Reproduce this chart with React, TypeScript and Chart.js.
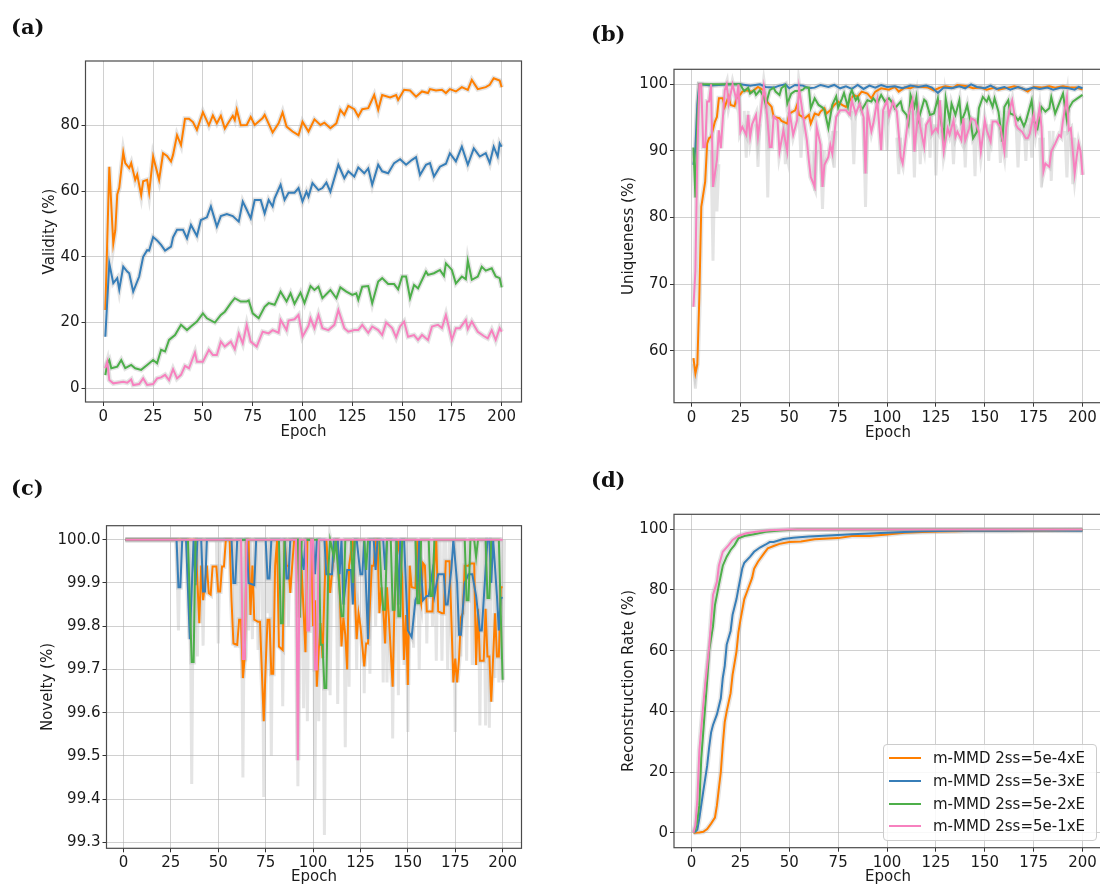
import React, { useEffect, useRef } from "react";
import { Chart, registerables } from "chart.js";
Chart.register(...registerables);

type P = [number, number];
type S3 = [number, number, number];

// ---------------- (a) Validity ----------------
const aOrange: P[] = [[1,23.8],[3,67.4],[5,44],[6,48],[7,59],[8,61],[10,71.8],[11,68.5],[13,67],[14,68.5],[16,63.4],[17,65],[19,58.8],[20,63],[22,63.4],[23,59.5],[25,70.5],[28,63.4],[30,71.5],[32,70.7],[34,69],[35,71],[37,77],[39,74],[41,82],[43,82],[45,81],[47,78.6],[50,84],[53,80],[55,83],[57,80.6],[59,82.9],[61,79],[63,81],[65,82.9],[66,81.6],[67,84.7],[69,80],[72,80.1],[74,82.5],[76,80.1],[80,82.2],[81,83.2],[85,77.8],[88,80.6],[90,83.9],[92,79.6],[95,78.1],[98,77],[100,81.1],[103,78.1],[106,81.8],[109,80.1],[111,80.8],[114,79.1],[117,80.6],[119,84.7],[121,83.2],[123,85.9],[126,84.9],[128,82.7],[130,84.9],[133,85.2],[136,89.2],[138,84.7],[140,89.2],[144,88.5],[147,89.2],[148,87.7],[151,90.8],[154,90.6],[157,88.7],[160,90.3],[163,89.8],[164,91],[167,90.6],[170,90.8],[172,89.8],[174,91],[177,90.3],[180,91.6],[183,90.8],[185,93.8],[188,91],[192,91.6],[194,92.3],[196,94.3],[199,93.6],[200,91.6]];
const aBlue: P[] = [[1,15.7],[3,38],[5,32],[7,33.5],[8,30],[10,37],[12,35.5],[13,35],[15,29.4],[18,34],[20,40],[22,42],[23,41.9],[25,46],[27,45],[29,43.6],[31,41.9],[34,43.1],[35,45.9],[37,48.2],[40,48.2],[42,45.6],[44,49.7],[47,46.3],[49,51.2],[52,52],[54,55.3],[57,49.2],[59,52.4],[62,53],[65,52.4],[68,50.7],[70,56.8],[72,54.3],[74,51.7],[76,57.3],[79,57.3],[81,53.2],[83,57.3],[85,55.3],[86,57.8],[89,61.9],[91,57.3],[93,59.5],[96,59.5],[98,60.9],[100,56.8],[102,59.8],[103,58.3],[105,62.4],[108,60.3],[110,60.9],[112,62.6],[114,59.8],[118,68],[121,63.9],[123,66],[126,64.4],[128,67.2],[131,65.4],[133,66.9],[135,61.9],[138,68],[140,66],[143,65.4],[146,68.5],[149,69.7],[152,68],[155,69.5],[157,70.3],[159,64.9],[162,68],[164,68.5],[166,64.4],[169,67.4],[172,68.3],[174,71.5],[177,69],[180,73.5],[183,68],[186,73],[189,70.5],[192,71.5],[194,68.5],[196,73.5],[198,70.5],[199,74.5],[200,73.5]];
const aGreen: P[] = [[1,4],[2,7.6],[3,8.6],[4,6.1],[7,6.6],[9,8.6],[11,6.1],[14,7.1],[16,6.1],[19,5.6],[22,7.1],[25,8.6],[27,7.6],[29,11.7],[31,11.2],[33,14.7],[36,16.2],[39,19.3],[42,17.7],[44,18.8],[47,20.3],[50,22.8],[52,21.3],[56,20],[59,22.3],[61,23.3],[64,25.9],[66,27.4],[69,26.4],[72,26.4],[73,26.7],[75,22.8],[78,21.3],[81,24.8],[83,25.9],[86,25.4],[89,29.4],[92,26.4],[94,28.9],[96,25.7],[99,29.1],[101,25.9],[104,31.1],[106,29.9],[108,30.9],[110,27.4],[114,29.9],[117,27.4],[119,30.7],[122,29.4],[125,28.4],[127,28.9],[128,26.9],[130,30.9],[133,31.1],[135,25.9],[138,32.5],[140,33.5],[143,31.7],[146,31.7],[148,30.1],[150,34],[152,34],[154,27.4],[156,31.4],[158,30.4],[162,35.5],[163,34.5],[166,35],[169,36],[171,34.2],[172,38],[175,36],[177,31.9],[180,34],[182,33.2],[183,38.8],[185,33],[188,34],[190,37],[192,35.8],[195,36.5],[197,34],[199,33.5],[200,30.7]];
const aPink: P[] = [[1,6.1],[2,8.1],[3,2.5],[5,1.5],[7,1.7],[10,2],[12,1.7],[14,2.7],[15,1],[18,1.3],[20,3],[22,1],[25,1.3],[27,3],[29,3.3],[31,4.1],[33,2.5],[35,5.8],[37,3],[39,4.1],[41,6.8],[43,6.1],[46,10.9],[47,8.1],[50,8.1],[53,11.7],[55,10.1],[57,10.1],[59,14.2],[61,12.7],[64,14.2],[66,11.9],[68,16.7],[70,13.7],[72,19.3],[74,14.2],[77,12.7],[80,17.2],[83,16.7],[85,17.7],[88,16.9],[89,20.8],[92,17.7],[93,20.6],[96,21],[98,22.3],[100,15.7],[103,19],[104,21.3],[106,18.3],[108,22.3],[110,18.3],[113,17.7],[116,19.3],[118,23.8],[121,18.3],[123,17.2],[126,17.7],[128,17.7],[130,19.3],[133,16.9],[135,18.8],[138,17.7],[140,16.2],[142,20],[145,18.3],[147,15.5],[149,18.8],[151,20.3],[153,15.7],[156,16.2],[158,14.7],[160,16.2],[163,14.7],[165,18.8],[168,19.3],[170,18.3],[172,22.3],[175,14.7],[177,18.3],[179,18.3],[182,20.8],[183,18],[185,20.3],[188,17.2],[191,15.9],[193,15.2],[195,17.7],[197,14.7],[199,18.3],[200,17.2]];

// ---------------- (b) Uniqueness ----------------
const bOrange: P[] = [[1,58.9],[2,56.6],[3,58],[4,68],[5,81.6],[7,85.4],[8,91.1],[9,91.9],[10,92.1],[12,94.4],[13,95.1],[14,97.9],[16,97.9],[17,96.6],[19,98.2],[20,96.9],[22,96.7],[23,97.9],[25,98.5],[26,98.9],[28,99.1],[31,98.9],[34,99.6],[37,99.1],[38,97.6],[41,96.6],[42,95.1],[45,94.9],[46,94.5],[49,94.1],[50,95.6],[53,96.1],[54,96.9],[55,95.4],[58,94.9],[60,95.4],[61,94.1],[63,95.6],[65,95.4],[66,95.9],[68,96.4],[69,95.6],[71,96.1],[73,96.9],[75,97.4],[77,96.9],[79,96.6],[81,97.6],[83,98.4],[85,98.1],[87,98.9],[90,98.6],[92,97.9],[94,98.9],[97,99.4],[101,99.2],[104,99.6],[106,98.9],[109,99.5],[112,99.4],[114,99.7],[118,99.6],[121,99.5],[124,99.1],[127,99.5],[130,99.7],[134,99.5],[136,99.9],[141,99.7],[144,99.4],[148,99.5],[151,99.2],[155,99.5],[157,99.2],[162,99.5],[165,99.7],[169,99.4],[172,98.9],[175,99.6],[179,99.5],[183,99.7],[186,99.5],[190,99.7],[194,99.5],[197,99.5],[200,99.2]];
const bBlue: P[] = [[1,87.9],[2,90.5],[3,97],[4,100],[10,99.8],[20,100],[25,100],[30,99.8],[35,100],[38,99.6],[42,99.5],[45,99.8],[48,100],[50,99.4],[53,99.9],[57,99.8],[60,99.4],[63,99.5],[66,99.9],[70,99.6],[73,99.9],[76,99.4],[79,99.7],[82,99.3],[85,99.9],[88,99.3],[91,99.8],[94,99.5],[97,99.9],[100,99.6],[104,99.7],[108,99.4],[112,99.8],[116,99.6],[120,99.8],[123,99.5],[126,98.7],[129,99.5],[133,99.4],[137,99.7],[140,99.4],[143,100],[146,99.6],[150,99.4],[153,99.8],[156,99.3],[160,99.6],[163,99.2],[167,99.6],[171,99.2],[175,99.5],[178,99.3],[182,99.5],[185,99.2],[189,99.5],[193,99.4],[196,99.2],[198,99.6],[200,99.4]];
const bGreen: P[] = [[1,90.5],[2,83],[3,95],[4,100],[25,100],[26,99.4],[27,99],[29,99.5],[30,98.6],[32,99.1],[33,98.4],[35,99.1],[37,98.1],[38,96.9],[40,99.1],[42,99.5],[43,98.9],[45,98.4],[46,99.4],[48,99.9],[49,97.1],[51,98.6],[53,99],[55,99],[57,99.2],[58,99.5],[60,99.5],[61,96.4],[63,97.9],[65,96.9],[67,96.5],[68,96.1],[70,93.4],[72,96.9],[74,98.2],[75,96.5],[77,97.9],[78,98.7],[80,96.6],[81,98.4],[82,99.1],[84,97.6],[85,98.1],[87,96.1],[89,97.1],[90,97.6],[92,97.4],[93,97.9],[95,97.1],[97,98.4],[99,97.4],[101,97.9],[103,97.1],[104,96.4],[107,97.4],[108,96.1],[110,95.4],[111,94.2],[112,98.4],[114,96.6],[115,98.1],[116,94.6],[119,97.7],[120,97.4],[122,95.4],[124,95.6],[126,97.9],[127,95.6],[129,91.9],[130,97.9],[132,94.6],[133,97.1],[135,95.4],[137,97.6],[138,94.4],[140,95.9],[141,96.9],[143,93.9],[144,91.9],[146,92.9],[147,96.4],[149,98.1],[151,97.4],[152,98.1],[154,96.6],[155,97.9],[157,95.9],[159,91.4],[160,96.6],[162,97.6],[163,95.6],[165,95.4],[167,94.6],[168,95],[170,93.7],[171,94.4],[174,97.6],[175,94.6],[177,93.4],[179,96.6],[181,95.9],[183,96.4],[184,98.1],[186,95.6],[188,97.1],[190,98.6],[192,94.6],[193,96.4],[195,97.4],[197,97.8],[200,98.4]];
const bPink: P[] = [[1,66.6],[2,72],[3,90],[4,100],[5,100],[6,90.6],[7,90.6],[8,97.4],[9,97.4],[10,100],[11,84.6],[13,88.6],[14,93.1],[15,90.4],[17,99.1],[18,100],[19,97.1],[21,100],[23,97.6],[24,100],[25,92.9],[26,93.6],[28,92.4],[29,95.4],[30,92.1],[31,94],[33,95.4],[34,92.1],[35,94.6],[37,99.7],[38,97.6],[40,90.6],[41,90.6],[42,95.2],[44,94.6],[45,89.9],[47,93.1],[49,89.9],[50,96.1],[52,92.4],[54,94.6],[55,99.5],[57,95.4],[59,91.6],[60,88.6],[61,86.1],[63,84.6],[64,93.6],[66,90.9],[67,84.6],[68,87.9],[70,89.1],[71,90.9],[72,89.6],[74,95.1],[76,96.1],[79,96.1],[81,95.4],[82,97.6],[84,95.6],[86,97.1],[88,95.1],[89,86.6],[90,96.1],[92,92.9],[93,94.1],[95,97.6],[97,90.1],[98,96.1],[100,97.6],[101,95.4],[103,97.4],[105,95.9],[107,89.1],[108,88.1],[110,92.9],[111,95.4],[113,97.6],[114,89.9],[116,96.1],[117,93.6],[119,90.6],[120,93.9],[122,94.9],[123,92.6],[125,93.4],[126,92.9],[127,97.6],[129,89.9],[131,93.4],[132,92.4],[134,94.6],[135,92.1],[136,92.9],[138,91.6],[139,94.9],[140,91.6],[142,93.4],[143,94.9],[145,94.6],[147,92.9],[148,89.9],[150,94.6],[151,93.1],[153,91.4],[154,94.4],[156,94.4],[158,93.6],[160,89.9],[161,93.6],[163,96.6],[164,97.6],[166,93.9],[167,93.4],[169,92.9],[171,91.9],[172,91.9],[173,92.6],[175,95.4],[176,92.9],[178,96.4],[179,93.6],[180,86.9],[181,88.1],[183,87.6],[184,89.9],[186,91.1],[188,92.4],[189,92.1],[190,94.6],[192,98.1],[193,93.1],[194,93.4],[196,86.6],[197,89.1],[198,91.1],[199,89.9],[200,86.4]];
// raw (grey) excursions: [epoch, from, to]
const bRawSpikes: S3[] = [[2,58,54.3],[11,90,73.5],[13,88,80.9],[28,96,89],[34,94,87.6],[39,97,83],[48,95,88],[56,95,89],[63,90,84],[67,90,81.3],[73,93,87.5],[83,96,88],[89,95,81.6],[100,96,90],[106,92,86.5],[114,96,86],[117,95,88],[122,96,89],[125,94,86.3],[134,94,88],[140,95,87.5],[145,95,86.2],[152,94,88.5],[158,95,88.2],[161,96,89],[167,94,87.5],[171,94,88.5],[174,95,89],[179,92,84.5],[184,93,85.5],[192,93,86],[195,92,85]];

// ---------------- (c) Novelty ----------------
const cOrange: P[] = [[1,100],[38,100],[40,99.807],[41,99.94],[42,99.86],[44,99.94],[45,99.876],[46,99.873],[47,99.938],[49,99.938],[50,99.88],[51,99.88],[52,99.938],[53,99.938],[54,100],[56,100],[57,99.86],[58,99.76],[60,99.757],[61,99.815],[62,99.815],[63,99.68],[64,99.73],[65,100],[66,100],[67,99.826],[68,99.94],[69,99.815],[71,99.81],[72,99.81],[74,99.58],[75,99.707],[76,99.815],[77,99.815],[78,99.69],[79,99.69],[80,99.94],[81,100],[82,99.753],[84,99.745],[85,100],[86,99.94],[87,99.94],[88,99.877],[89,99.94],[90,100],[92,100],[93,99.82],[94,99.93],[96,99.74],[97,100],[99,100],[100,99.8],[101,99.86],[102,99.66],[103,99.745],[104,99.807],[105,99.726],[106,99.877],[107,100],[109,99.877],[111,99.97],[112,100],[113,100],[114,99.89],[115,99.753],[116,99.82],[117,99.78],[118,99.7],[119,99.94],[121,100],[122,99.877],[123,99.77],[124,99.83],[125,99.8],[126,99.753],[127,99.707],[128,99.76],[129,99.76],[131,99.94],[132,99.94],[133,100],[134,100],[135,99.83],[136,99.89],[137,99.84],[138,99.76],[139,99.89],[140,99.82],[142,99.66],[143,99.86],[144,99.95],[145,100],[147,99.915],[148,99.722],[149,99.826],[150,99.664],[151,99.94],[152,99.89],[154,99.888],[155,100],[156,99.877],[157,99.853],[158,99.946],[159,99.94],[160,99.834],[162,99.834],[163,99.834],[164,99.94],[165,100],[166,99.834],[168,99.83],[169,99.83],[170,99.95],[172,99.95],[173,99.81],[174,99.67],[175,99.725],[176,99.67],[177,99.725],[178,99.82],[179,99.83],[180,99.94],[182,99.94],[183,99.945],[185,99.945],[186,99.71],[187,99.84],[188,99.72],[190,99.72],[191,99.84],[192,99.73],[193,99.73],[194,99.625],[195,99.73],[196,99.83],[197,99.73],[198,99.73],[199,99.89],[200,99.89]];
const cBlue: P[] = [[1,100],[28,100],[29,99.89],[30,99.89],[31,100],[33,100],[35,99.77],[37,100],[38,99.895],[39,100],[41,100],[42,99.88],[43,99.88],[44,100],[57,100],[58,99.9],[59,99.9],[60,100],[65,100],[66,99.9],[69,99.895],[70,100],[75,100],[76,99.91],[77,99.91],[78,100],[85,100],[86,99.91],[87,99.91],[88,100],[93,100],[95,99.93],[96,100],[100,100],[101,99.92],[102,100],[106,100],[107,99.92],[110,99.92],[111,100],[113,100],[114,99.92],[115,100],[116,99.85],[118,99.93],[120,99.93],[121,99.85],[122,100],[123,100],[125,99.92],[126,99.92],[127,100],[129,99.77],[130,100],[132,100],[133,99.93],[134,100],[137,100],[138,99.93],[139,100],[144,100],[145,99.85],[146,100],[148,100],[150,99.79],[152,99.775],[154,99.86],[155,99.87],[156,100],[158,99.86],[160,99.87],[161,99.87],[163,99.926],[164,99.87],[166,99.92],[168,99.92],[169,99.92],[170,99.85],[171,99.85],[173,99.934],[174,100],[176,99.9],[177,99.78],[178,99.78],[180,99.9],[182,99.92],[184,99.92],[186,99.87],[188,99.79],[189,99.79],[191,99.93],[192,100],[193,100],[194,99.9],[195,100],[197,99.87],[198,99.79],[199,99.866],[200,99.865]];
const cGreen: P[] = [[1,100],[34,100],[36,99.717],[37,99.717],[38,100],[82,100],[83,99.807],[84,99.807],[85,100],[92,100],[93,99.82],[94,100],[103,100],[104,99.757],[105,99.757],[106,99.657],[107,99.657],[108,99.927],[109,100],[111,99.96],[112,100],[115,99.823],[116,99.823],[117,100],[120,100],[121,99.9],[122,100],[127,100],[128,99.93],[129,100],[135,100],[136,99.9],[137,99.838],[138,99.838],[139,100],[141,100],[142,99.838],[143,99.838],[144,100],[145,99.823],[146,99.823],[147,100],[154,100],[155,99.853],[156,99.853],[157,100],[161,100],[162,99.87],[163,99.87],[164,100],[180,100],[181,99.86],[182,99.86],[183,100],[185,100],[186,99.96],[187,100],[191,100],[192,99.865],[193,99.865],[194,100],[198,100],[199,99.83],[200,99.676]];
const cPink: P[] = [[1,100],[62,100],[63,99.724],[64,99.724],[65,100],[91,100],[92,99.49],[93,100],[96,100],[97,99.79],[98,99.79],[99,100],[100,100],[101,99.7],[102,99.7],[103,100],[200,100]];
const cRawSpikes: S3[] = [[29,100,99.79],[36,100,99.435],[39,100,99.73],[42,100,99.755],[50,100,99.76],[59,100,99.75],[61,100,99.81],[63,100,99.45],[66,100,99.79],[68,100,99.77],[71,100,99.745],[74,100,99.405],[76,100,99.83],[78,100,99.5],[84,100,99.615],[87,100,99.8],[92,100,99.43],[95,100,99.61],[97,100,99.58],[101,100,99.4],[103,100,99.58],[106,100,99.317],[109,100,99.64],[113,100,99.62],[117,100,99.52],[119,100,99.66],[123,100,99.7],[127,100,99.645],[130,100,99.69],[133,100,99.8],[137,100,99.67],[139,100,99.67],[142,100,99.54],[145,100,99.64],[148,100,99.71],[150,100,99.555],[153,100,99.75],[156,100,99.7],[160,100,99.76],[163,100,99.8],[165,100,99.72],[168,100,99.72],[171,100,99.7],[175,100,99.555],[178,100,99.73],[181,100,99.72],[184,100,99.71],[188,100,99.57],[191,100,99.57],[193,100,99.565],[196,100,99.68],[198,100,99.67],[200,100,99.67]];

// ---------------- (d) Reconstruction ----------------
const dOrange: P[] = [[1,0],[4,0.1],[6,0.3],[8,1.2],[10,3],[12,5],[13,9],[14,14.6],[15,20],[16,29],[17,36.5],[18,40],[20,46],[21,52],[23,59.7],[24,66],[25,70],[27,77],[29,80.5],[31,84],[32,87],[34,89.3],[37,92],[39,93.7],[42,94.5],[45,95.2],[50,95.8],[56,96],[63,96.7],[70,97],[75,97.1],[82,97.8],[91,97.8],[100,98.3],[109,98.9],[118,99.1],[127,99.3],[135,99.4],[144,99.5],[160,99.5],[180,99.6],[200,99.7]];
const dBlue: P[] = [[1,0],[2,0.3],[3,1],[4,4.7],[6,13.5],[8,22],[9,28],[10,33],[11,35.5],[13,39],[15,44.3],[16,51],[17,55],[18,62],[20,66.5],[21,71.8],[23,77],[24,80.5],[26,87.2],[27,89],[30,91],[32,92.6],[35,94],[38,95],[40,95.8],[42,95.8],[47,96.8],[52,97.2],[60,97.6],[70,98],[82,98.4],[100,98.9],[118,99.4],[135,99.5],[160,99.5],[180,99.6],[200,99.5]];
const dGreen: P[] = [[1,0],[2,1],[3,4],[4,9],[5,24.5],[6,33],[8,50],[9,60],[11,68],[12,75],[14,81.6],[16,88],[18,91],[20,93.2],[22,94.8],[24,97],[27,97.8],[32,98.4],[38,99.2],[45,99.6],[54,99.9],[80,99.9],[120,99.9],[200,99.9]];
const dPink: P[] = [[1,0],[2,2.5],[3,11],[4,27],[6,42],[7,49],[9,61],[10,69.6],[11,78.4],[13,82.7],[14,88],[16,92.6],[19,94.8],[21,96.5],[24,97.8],[28,98.7],[33,99.2],[40,99.7],[50,99.9],[100,99.9],[200,99.9]];

const xTicks = [0, 25, 50, 75, 100, 125, 150, 175, 200];
const aYTicks = [0, 20, 40, 60, 80];
const bYTicks = [60, 70, 80, 90, 100];
const cYTicks = [99.3, 99.4, 99.5, 99.6, 99.7, 99.8, 99.9, 100.0];
const dYTicks = [0, 20, 40, 60, 80, 100];
const legendLabels = ["m-MMD 2ss=5e-4xE", "m-MMD 2ss=5e-3xE", "m-MMD 2ss=5e-2xE", "m-MMD 2ss=5e-1xE"];

const ORANGE = "#ff7f00";
const BLUE = "#377eb8";
const GREEN = "#4daf4a";
const PINK = "#f781bf";
const COLORS = [ORANGE, BLUE, GREEN, PINK];
const FONT = "'DejaVu Sans', sans-serif";
const TEXT = "#1a1a1a";
const GRID = "rgba(176,176,176,0.6)";
const HALO = "rgba(185,185,185,0.38)";

const toXY = (a: P[]) => a.map(([x, y]) => ({ x, y }));
const spikesXY = (list: S3[]) => {
  const out: any[] = [];
  for (const [e, top, bot] of list) {
    out.push({ x: e - 1, y: top }, { x: e, y: bot }, { x: e + 1, y: top }, { x: e + 1, y: null });
  }
  return out;
};

const framePlugin = {
  id: "frame",
  afterDraw(chart: any) {
    const { ctx, chartArea: a } = chart;
    ctx.save();
    ctx.strokeStyle = "#4a4a4a";
    ctx.lineWidth = 1.2;
    ctx.strokeRect(a.left, a.top, a.right - a.left, a.bottom - a.top);
    ctx.restore();
  },
};

type PanelCfg = {
  series: P[][];
  spikes?: S3[];
  yMin: number; yMax: number; yTicks: number[]; yFmt?: (v: number) => string;
  yTitle: string; yAxisW: number; xAxisH: number; padTop: number; padRight: number;
  yTitlePad: number; xTitlePad: number;
};

function buildConfig(c: PanelCfg): any {
  const datasets: any[] = [];
  c.series.forEach((s, i) => {
    datasets.push({ data: toXY(s), borderColor: COLORS[i], borderWidth: 2, pointRadius: 0, order: 4 - i, tension: 0, fill: false });
  });
  c.series.forEach((s) => {
    datasets.push({ data: toXY(s), borderColor: HALO, borderWidth: 5, pointRadius: 0, order: 10, tension: 0, fill: false });
  });
  if (c.spikes) {
    datasets.push({ data: spikesXY(c.spikes), borderColor: HALO, borderWidth: 3, pointRadius: 0, order: 11, tension: 0, fill: false, spanGaps: false });
  }
  const font = { family: FONT, size: 15 };
  return {
    type: "line",
    data: { datasets },
    plugins: [framePlugin],
    options: {
      responsive: false,
      animation: false,
      events: [],
      layout: { padding: { top: c.padTop, right: c.padRight, left: 0, bottom: 0 } },
      plugins: { legend: { display: false }, tooltip: { enabled: false } },
      scales: {
        x: {
          type: "linear", min: -8.95, max: 209.95,
          afterBuildTicks: (s: any) => { s.ticks = xTicks.map((v) => ({ value: v })); },
          afterFit: (s: any) => { s.height = c.xAxisH; },
          border: { display: false },
          grid: { color: GRID, lineWidth: 1, tickLength: 4, tickColor: "#333", drawTicks: true },
          ticks: { color: TEXT, font, padding: 2, maxRotation: 0, autoSkip: false, callback: (v: any) => String(v) },
          title: { display: true, text: "Epoch", color: TEXT, font, padding: { top: 0, bottom: c.xTitlePad } },
        },
        y: {
          type: "linear", min: c.yMin, max: c.yMax,
          afterBuildTicks: (s: any) => { s.ticks = c.yTicks.map((v) => ({ value: v })); },
          afterFit: (s: any) => { s.width = c.yAxisW; },
          border: { display: false },
          grid: { color: GRID, lineWidth: 1, tickLength: 4, tickColor: "#333", drawTicks: true },
          ticks: { color: TEXT, font, padding: 2, autoSkip: false, callback: (v: any) => (c.yFmt ? c.yFmt(Number(v)) : String(v)) },
          title: { display: true, text: c.yTitle, color: TEXT, font, padding: { top: c.yTitlePad, bottom: 0 } },
        },
      },
    },
  };
}

function Panel(props: { left: number; top: number; width: number; height: number; cfg: PanelCfg }) {
  const ref = useRef<HTMLCanvasElement>(null);
  useEffect(() => {
    const chart = new Chart(ref.current as HTMLCanvasElement, buildConfig(props.cfg));
    return () => chart.destroy();
  }, []);
  const { left, top, width, height } = props;
  return (
    <div style={{ position: "absolute", left, top, width, height }}>
      <canvas ref={ref} width={width} height={height} style={{ width, height, display: "block" }} />
    </div>
  );
}

const labelStyle = (left: number, top: number): React.CSSProperties => ({
  position: "absolute", left, top, fontFamily: "'DejaVu Serif', serif", fontWeight: "bold", fontSize: 21, lineHeight: "24px", color: "#111",
});

export default function App() {
  return (
    <div style={{ position: "fixed", left: 0, top: 0, width: 1100, height: 886, overflow: "hidden", background: "#fff" }}>
      <Panel left={0} top={0} width={540} height={450} cfg={{
        series: [aOrange, aBlue, aGreen, aPink], yMin: -4.17, yMax: 99.56, yTicks: aYTicks,
        yTitle: "Validity (%)", yAxisW: 85.5, xAxisH: 48, padTop: 61, padRight: 18.5, yTitlePad: 41, xTitlePad: 9,
      }} />
      <Panel left={560} top={0} width={560} height={450} cfg={{
        series: [bOrange, bBlue, bGreen, bPink], spikes: bRawSpikes, yMin: 52.2, yMax: 102.25, yTicks: bYTicks,
        yTitle: "Uniqueness (%)", yAxisW: 114, xAxisH: 47.3, padTop: 69.3, padRight: 18, yTitlePad: 60, xTitlePad: 8,
      }} />
      <Panel left={0} top={450} width={540} height={436} cfg={{
        series: [cOrange, cBlue, cGreen, cPink], spikes: cRawSpikes, yMin: 99.2862, yMax: 100.0324, yTicks: cYTicks,
        yFmt: (v) => v.toFixed(1),
        yTitle: "Novelty (%)", yAxisW: 106.5, xAxisH: 37.7, padTop: 75.7, padRight: 18.5, yTitlePad: 39, xTitlePad: 0,
      }} />
      <Panel left={560} top={450} width={560} height={436} cfg={{
        series: [dOrange, dBlue, dGreen, dPink], yMin: -4.95, yMax: 104.95, yTicks: dYTicks,
        yTitle: "Reconstruction Rate (%)", yAxisW: 114, xAxisH: 38.3, padTop: 64.3, padRight: 18, yTitlePad: 60, xTitlePad: 0,
      }} />
      <div style={labelStyle(11, 15)}>(a)</div>
      <div style={labelStyle(591, 22)}>(b)</div>
      <div style={labelStyle(11, 476)}>(c)</div>
      <div style={labelStyle(591, 468)}>(d)</div>
      <div style={{ position: "absolute", left: 883, top: 744, width: 214, height: 97, border: "1px solid #cccccc", borderRadius: 4, background: "rgba(255,255,255,0.85)", boxSizing: "border-box" }}>
        {legendLabels.map((t, i) => (
          <div key={t} style={{ position: "absolute", left: 5, top: 3 + i * 22.8, height: 20, display: "flex", alignItems: "center" }}>
            <div style={{ width: 32, height: 2, background: COLORS[i], marginRight: 12 }} />
            <span style={{ fontFamily: FONT, fontSize: 15, color: TEXT, whiteSpace: "nowrap" }}>{t}</span>
          </div>
        ))}
      </div>
    </div>
  );
}
